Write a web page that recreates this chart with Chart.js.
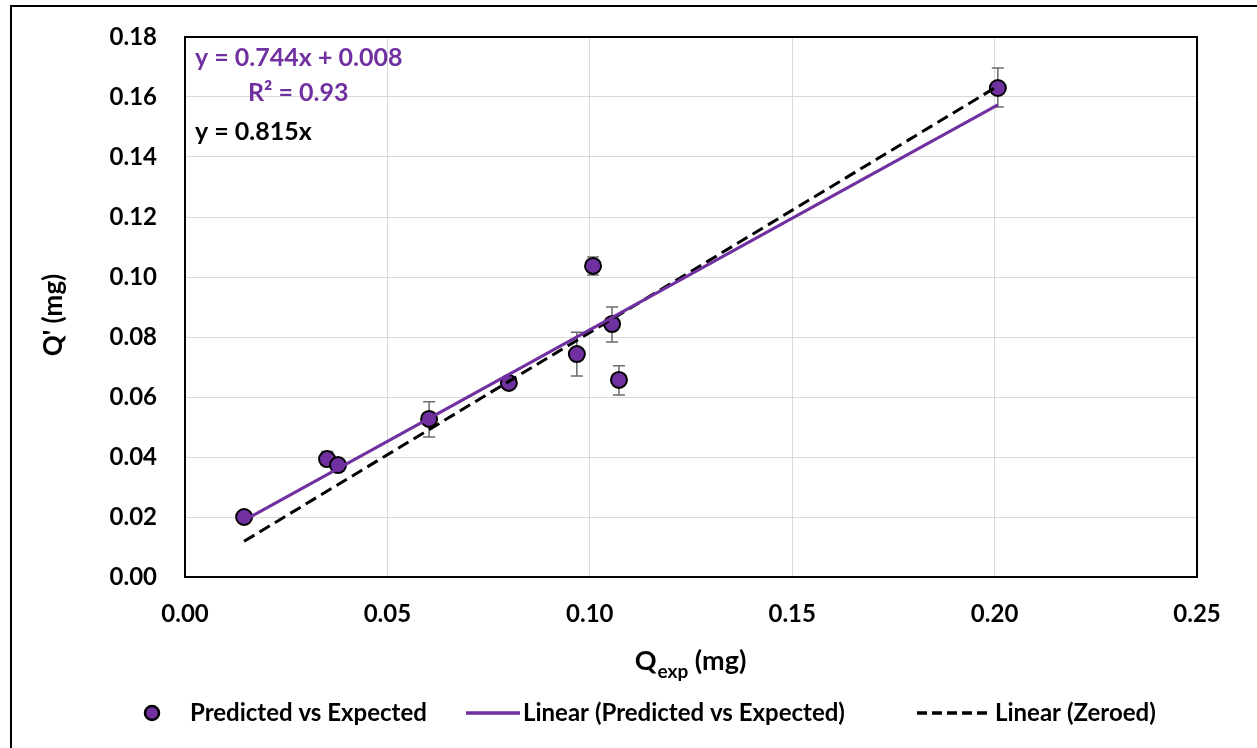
<!DOCTYPE html>
<html>
<head>
<meta charset="utf-8">
<style>
  body { margin: 0; background: #fff; }
  #wrap { width: 1257px; height: 748px; }
</style>
</head>
<body>
<div id="wrap">
    <canvas id="myChart" width="1257" height="748"></canvas>
</div>

<script src="https://cdn.jsdelivr.net/npm/chart.js"></script>

<script>
    // measured values (mg)
    const qExp = [0.0146, 0.0351, 0.0378, 0.0603, 0.0800, 0.0968, 0.1008, 0.1055, 0.1072, 0.2008];
    const qPred = [0.0200, 0.0393, 0.0373, 0.0527, 0.0647, 0.0743, 0.1037, 0.0843, 0.0657, 0.1630];
    const errUp = [0.0010, 0.0025, 0.0010, 0.0057, 0.0010, 0.0073, 0.0030, 0.0057, 0.0047, 0.0067];
    const errDown = [0.0010, 0.0020, 0.0010, 0.0060, 0.0010, 0.0073, 0.0030, 0.0060, 0.0050, 0.0063];

    // trend lines
    const fitSlope = 0.744, fitIntercept = 0.008;
    const zeroSlope = 0.815;

    const xTicks = [0, 0.05, 0.10, 0.15, 0.20, 0.25];
    const yTicks = [0, 0.02, 0.04, 0.06, 0.08, 0.10, 0.12, 0.14, 0.16, 0.18];

    const purple = '#7030A0';
    const FONT = 'Lato, Carlito, Calibri, sans-serif';

    var points = qExp.map(function (x, i) { return { x: x, y: qPred[i] }; });
    var xMin = Math.min.apply(null, qExp), xMax = Math.max.apply(null, qExp);
    var fitLine = [{ x: xMin, y: fitSlope * xMin + fitIntercept }, { x: xMax, y: fitSlope * xMax + fitIntercept }];
    var zeroLine = [{ x: xMin, y: zeroSlope * xMin }, { x: xMax, y: zeroSlope * xMax }];

    // error bars under the markers
    const errorBars = {
        id: 'errorBars',
        beforeDatasetsDraw: function (chart) {
            var ctx = chart.ctx, xs = chart.scales.x, ys = chart.scales.y;
            ctx.save();
            ctx.strokeStyle = '#6b6b6b';
            ctx.lineWidth = 1.5;
            for (var i = 0; i < qExp.length; i++) {
                var px = xs.getPixelForValue(qExp[i]);
                var top = ys.getPixelForValue(qPred[i] + errUp[i]);
                var bot = ys.getPixelForValue(qPred[i] - errDown[i]);
                ctx.beginPath();
                ctx.moveTo(px, top); ctx.lineTo(px, bot);
                ctx.moveTo(px - 6, top); ctx.lineTo(px + 6, top);
                ctx.moveTo(px - 6, bot); ctx.lineTo(px + 6, bot);
                ctx.stroke();
            }
            ctx.restore();
        }
    };

    // frame, titles, equations, legend
    const decorations = {
        id: 'decorations',
        afterDraw: function (chart) {
            var ctx = chart.ctx, a = chart.chartArea;
            ctx.save();
            ctx.strokeStyle = '#000';
            ctx.lineWidth = 2;
            ctx.strokeRect(a.left, a.top, a.right - a.left, a.bottom - a.top);
            // outer chart frame (cut off on right and bottom)
            ctx.beginPath();
            ctx.moveTo(11, chart.height); ctx.lineTo(11, 6); ctx.lineTo(chart.width, 6);
            ctx.stroke();

            // equations
            ctx.font = 'bold 25px ' + FONT;
            ctx.textBaseline = 'middle';
            ctx.textAlign = 'left';
            ctx.fillStyle = purple;
            ctx.fillText('y = 0.744x + 0.008', 195, 58);
            ctx.fillText('R² = 0.93', 248, 93);
            ctx.fillStyle = '#000';
            ctx.fillText('y = 0.815x', 195, 132);

            // y title
            ctx.save();
            ctx.translate(54, 315);
            ctx.rotate(-Math.PI / 2);
            ctx.textAlign = 'center';
            ctx.font = 'bold 26px ' + FONT;
            ctx.fillText("Q' (mg)", 0, 0);
            ctx.restore();

            // x title with subscript
            ctx.textBaseline = 'alphabetic';
            ctx.font = 'bold 27px ' + FONT;
            var w1 = ctx.measureText('Q').width;
            var w3 = ctx.measureText(' (mg)').width;
            ctx.font = 'bold 19px ' + FONT;
            var w2 = ctx.measureText('exp').width;
            var x0 = 690 - (w1 + w2 + w3) / 2;
            ctx.font = 'bold 27px ' + FONT;
            ctx.fillText('Q', x0, 670);
            ctx.font = 'bold 19px ' + FONT;
            ctx.fillText('exp', x0 + w1 + 1, 678);
            ctx.font = 'bold 27px ' + FONT;
            ctx.fillText(' (mg)', x0 + w1 + w2 + 1, 670);

            // legend
            var ly = 713;
            ctx.font = 'bold 24px ' + FONT;
            ctx.textBaseline = 'middle';
            ctx.beginPath();
            ctx.arc(152, ly, 7, 0, Math.PI * 2);
            ctx.fillStyle = purple; ctx.fill();
            ctx.lineWidth = 2.5; ctx.strokeStyle = '#000'; ctx.stroke();
            ctx.fillStyle = '#000';
            ctx.fillText('Predicted vs Expected', 190, ly);

            ctx.beginPath();
            ctx.moveTo(466, ly); ctx.lineTo(520, ly);
            ctx.strokeStyle = purple; ctx.lineWidth = 3.5; ctx.stroke();
            ctx.fillText('Linear (Predicted vs Expected)', 523, ly);

            ctx.beginPath();
            ctx.setLineDash([10, 5]);
            ctx.moveTo(917, ly); ctx.lineTo(992, ly);
            ctx.strokeStyle = '#000'; ctx.lineWidth = 3.5; ctx.stroke();
            ctx.setLineDash([]);
            ctx.fillText('Linear (Zeroed)', 995, ly);
            ctx.restore();
        }
    };

    const ctx = document.getElementById('myChart');

    new Chart(ctx, {
        type: 'scatter',
        data: {
            datasets: [{
                type: 'line',
                label: 'Linear (Predicted vs Expected)',
                data: fitLine,
                borderColor: purple,
                borderWidth: 3,
                pointRadius: 0,
                fill: false
            }, {
                type: 'line',
                label: 'Linear (Zeroed)',
                data: zeroLine,
                borderColor: '#000',
                borderWidth: 3,
                borderDash: [12, 6],
                pointRadius: 0,
                fill: false
            }, {
                label: 'Predicted vs Expected',
                data: points,
                backgroundColor: purple,
                borderColor: '#000',
                borderWidth: 2,
                pointRadius: 8,
                pointHoverRadius: 8
            }]
        },
        options: {
            responsive: false,
            animation: false,
            layout: { padding: { left: 0, top: 37, right: 60, bottom: 0 } },
            plugins: {
                legend: { display: false },
                tooltip: { enabled: false }
            },
            scales: {
                x: {
                    type: 'linear',
                    min: 0, max: 0.25,
                    afterBuildTicks: function (s) { s.ticks = xTicks.map(function (v) { return { value: v }; }); },
                    afterFit: function (s) { s.height = 171; s.paddingLeft = 0; s.paddingRight = 0; },
                    grid: { color: '#d9d9d9', drawTicks: false },
                    border: { display: false },
                    ticks: {
                        padding: 23,
                        color: '#000',
                        font: { family: FONT, size: 24, weight: 'bold' },
                        callback: function (v) { return Number(v).toFixed(2); }
                    }
                },
                y: {
                    type: 'linear',
                    min: 0, max: 0.18,
                    afterBuildTicks: function (s) { s.ticks = yTicks.map(function (v) { return { value: v }; }); },
                    afterFit: function (s) { s.width = 185; s.paddingTop = 0; s.paddingBottom = 0; },
                    grid: { color: '#d9d9d9', drawTicks: false },
                    border: { display: false },
                    ticks: {
                        padding: 28,
                        color: '#000',
                        font: { family: FONT, size: 24, weight: 'bold' },
                        callback: function (v) { return Number(v).toFixed(2); }
                    }
                }
            }
        },
        plugins: [errorBars, decorations]
    });
</script>
</body>
</html>
